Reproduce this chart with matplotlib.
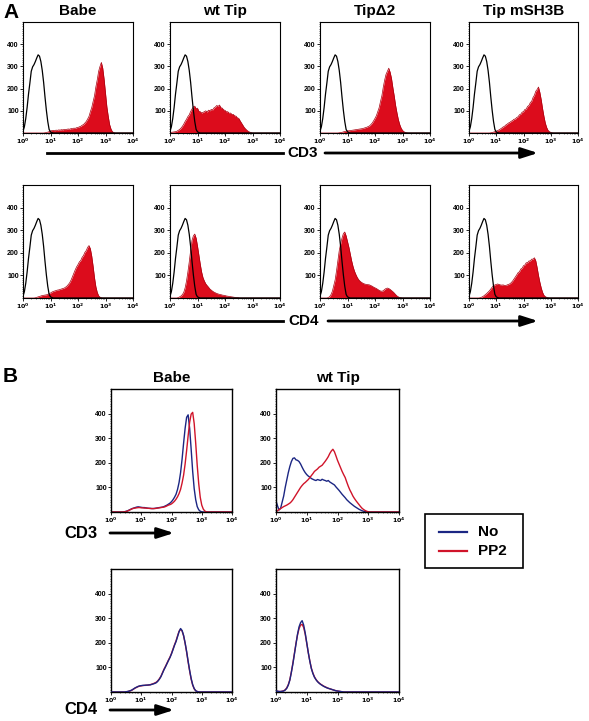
import numpy as np
import matplotlib
matplotlib.use('Agg')
import matplotlib.pyplot as plt
from matplotlib.ticker import MultipleLocator, LogLocator, NullFormatter
from matplotlib.patches import FancyArrowPatch, Rectangle
from matplotlib.lines import Line2D

plt.rcParams['font.family'] = ['Liberation Sans', 'DejaVu Sans']

# ---------------- data: log10 channel positions 0..4 step 0.05 (81 channels) ----------------
LOG_X = np.linspace(0, 4, 81)

CONTROL = [8, 28, 65, 115, 175, 225, 278, 298, 308, 322,
           338, 352, 346, 322, 282, 228, 162, 102, 52, 16,
           5, 2, 0, 0, 0, 0, 0, 0, 0, 0] + [0] * 51

A_TITLES = ['Babe', 'wt Tip', 'Tip\u03942', 'Tip mSH3B']

CD3_BABE = [0, 0, 0, 0, 0, 0, 0, 0, 0, 0,
            0, 0, 0, 0, 0, 0, 1, 2, 4, 6,
            9, 11, 12, 10, 13, 12, 14, 13, 15, 14,
            16, 15, 17, 18, 17, 20, 19, 22, 21, 24,
            25, 28, 30, 35, 38, 45, 52, 63, 75, 96,
            115, 142, 168, 208, 240, 278, 300, 318, 292, 242,
            180, 118, 75, 38, 18, 6, 2, 0, 0, 0] + [0] * 11
CD3_WT = [2, 3, 4, 5, 6, 8, 12, 16, 22, 30,
          40, 52, 62, 74, 82, 97, 108, 118, 121, 110,
          112, 98, 96, 90, 93, 96, 100, 94, 103, 100,
          106, 104, 113, 117, 124, 120, 126, 114, 112, 104,
          102, 95, 96, 89, 90, 84, 84, 77, 76, 68,
          66, 55, 45, 35, 25, 18, 12, 7, 4, 2] + [0] * 21
CD3_D2 = [0, 0, 0, 0, 0, 0, 0, 0, 0, 0,
          0, 0, 0, 0, 1, 2, 3, 5, 7, 8,
          10, 10, 11, 12, 13, 14, 15, 16, 17, 18,
          19, 20, 22, 24, 26, 29, 32, 38, 45, 55,
          66, 78, 96, 114, 142, 168, 206, 238, 264, 278,
          292, 274, 246, 204, 166, 124, 90, 60, 38, 22,
          12, 6, 3, 1, 0, 0, 0, 0, 0, 0] + [0] * 11
CD3_SH3B = [0, 0, 0, 0, 0, 0, 0, 0, 0, 0,
            0, 0, 0, 0, 0, 0, 1, 2, 4, 6,
            8, 11, 14, 18, 22, 27, 30, 36, 40, 45,
            48, 53, 56, 62, 63, 70, 73, 82, 85, 94,
            96, 106, 108, 120, 124, 137, 143, 160, 170, 188,
            196, 207, 183, 150, 110, 75, 45, 25, 12, 6,
            3, 1, 0, 0, 0, 0, 0, 0, 0, 0] + [0] * 11

CD4_BABE = [0, 0, 0, 0, 0, 0, 0, 0, 0, 1,
            3, 5, 7, 9, 11, 12, 13, 14, 16, 19,
            22, 26, 29, 31, 33, 35, 36, 38, 40, 42,
            44, 48, 53, 60, 68, 80, 95, 110, 125, 138,
            148, 160, 166, 180, 188, 202, 210, 224, 232, 218,
            185, 140, 90, 50, 25, 10, 4, 1, 0, 0] + [0] * 21
CD4_WT = [0, 0, 0, 0, 0, 0, 2, 5, 9, 15,
          25, 45, 75, 115, 160, 210, 255, 275, 283, 265,
          230, 190, 150, 115, 90, 75, 63, 55, 48, 40,
          35, 30, 26, 23, 20, 18, 16, 15, 13, 12,
          11, 9, 8, 7, 6, 5, 4, 3, 2, 2,
          1, 0, 0, 0, 0, 0, 0, 0, 0, 0] + [0] * 21
CD4_D2 = [0, 0, 0, 0, 0, 0, 2, 6, 15, 30,
          55, 80, 120, 165, 210, 240, 265, 285, 292, 275,
          250, 225, 195, 165, 140, 120, 105, 92, 82, 75,
          70, 66, 63, 61, 60, 59, 58, 55, 52, 48,
          45, 42, 38, 34, 31, 30, 32, 38, 42, 44,
          42, 38, 33, 28, 22, 15, 9, 5, 2, 1] + [0] * 21
CD4_SH3B = [0, 0, 0, 0, 0, 0, 0, 0, 1, 3,
            6, 10, 15, 20, 26, 32, 40, 48, 54, 58,
            60, 62, 60, 58, 57, 58, 56, 55, 58, 60,
            63, 68, 75, 84, 93, 102, 112, 116, 128, 132,
            143, 146, 156, 156, 164, 164, 172, 172, 178, 165,
            135, 100, 70, 45, 25, 12, 6, 3, 1, 0] + [0] * 21

B_TITLES = ['Babe', 'wt Tip']
LEGEND_LABELS = ['No', 'PP2']

B_CD3_BABE_NO = [0, 0, 0, 0, 0, 0, 0, 0, 0, 1,
                 3, 5, 8, 11, 14, 16, 18, 20, 21, 20,
                 19, 18, 18, 17, 16, 15, 15, 14, 14, 15,
                 16, 17, 18, 19, 20, 22, 25, 28, 32, 36,
                 42, 50, 60, 72, 92, 120, 160, 215, 280, 340,
                 385, 395, 340, 255, 165, 95, 50, 22, 9, 3,
                 1, 0, 0, 0, 0, 0, 0, 0, 0, 0] + [0] * 11
B_CD3_BABE_PP2 = [0, 0, 0, 0, 0, 0, 0, 0, 0, 1,
                  2, 4, 7, 10, 13, 15, 16, 17, 18, 18,
                  17, 17, 16, 16, 15, 15, 14, 14, 14, 14,
                  15, 16, 17, 18, 19, 20, 22, 25, 28, 30,
                  33, 38, 44, 52, 62, 75, 92, 118, 150, 195,
                  250, 310, 365, 398, 405, 360, 280, 190, 115, 60,
                  28, 12, 4, 1, 0, 0, 0, 0, 0, 0] + [0] * 11
B_CD3_WT_NO = [45, 25, 8, 15, 40, 65, 100, 130, 160, 185,
               205, 218, 220, 212, 210, 205, 195, 182, 170, 160,
               152, 146, 142, 136, 133, 130, 128, 132, 130, 128,
               133, 130, 128, 125, 128, 122, 118, 114, 110, 102,
               95, 88, 80, 72, 65, 58, 50, 44, 38, 33,
               28, 23, 19, 15, 11, 8, 5, 3, 2, 1] + [0] * 21
B_CD3_WT_PP2 = [2, 5, 10, 14, 18, 22, 25, 28, 32, 36,
                42, 50, 60, 70, 80, 90, 100, 108, 115, 120,
                126, 132, 140, 148, 156, 165, 170, 175, 182, 186,
                190, 198, 206, 215, 225, 238, 248, 255, 245, 228,
                210, 195, 180, 165, 152, 140, 122, 105, 90, 78,
                65, 55, 46, 38, 30, 22, 15, 10, 6, 3,
                1, 0, 0, 0, 0, 0, 0, 0, 0, 0] + [0] * 11
B_CD4_BABE_NO = [0, 0, 0, 0, 0, 0, 0, 0, 0, 0,
                 1, 2, 4, 6, 9, 13, 17, 20, 23, 25,
                 26, 27, 27, 28, 28, 29, 29, 31, 33, 35,
                 38, 44, 52, 62, 76, 90, 102, 115, 128, 140,
                 155, 172, 190, 205, 225, 245, 258, 250, 230, 200,
                 165, 125, 88, 55, 30, 14, 5, 2, 0, 0] + [0] * 21
B_CD4_BABE_PP2 = [0, 0, 0, 0, 0, 0, 0, 0, 0, 0,
                  1, 2, 3, 5, 8, 12, 16, 19, 22, 24,
                  25, 26, 27, 27, 28, 28, 30, 32, 34, 37,
                  40, 46, 54, 64, 78, 92, 104, 117, 130, 142,
                  157, 175, 192, 208, 228, 247, 255, 248, 228, 198,
                  162, 122, 85, 52, 28, 13, 5, 2, 0, 0] + [0] * 21
B_CD4_WT_NO = [5, 3, 2, 2, 3, 4, 8, 15, 28, 48,
               80, 115, 155, 195, 235, 265, 282, 290, 272, 240,
               200, 160, 125, 95, 75, 60, 50, 42, 36, 31,
               27, 23, 20, 17, 15, 13, 11, 9, 7, 5,
               4, 3, 2, 1, 0, 0, 0, 0, 0, 0] + [0] * 31
B_CD4_WT_PP2 = [4, 3, 2, 2, 3, 5, 9, 17, 30, 50,
                82, 118, 158, 198, 232, 258, 272, 275, 262, 235,
                198, 160, 126, 97, 77, 62, 51, 43, 37, 32,
                28, 24, 21, 18, 15, 13, 11, 9, 7, 5,
                4, 3, 2, 1, 0, 0, 0, 0, 0, 0] + [0] * 31

# ---------------- styling ----------------
RED_FILL = '#dc0c1c'
RED_EDGE = '#a8000f'
NAVY = '#1b2683'
RED_LINE = '#d0142a'

W, H = 589, 721
fig = plt.figure(figsize=(W / 100, H / 100), dpi=100)
X = 10 ** LOG_X


def add_ax(x0, x1, y0, y1):
    return fig.add_axes([x0 / W, 1 - y1 / H, (x1 - x0) / W, (y1 - y0) / H])


def style(ax, lw=0.8):
    ax.set_xscale('log')
    ax.set_xlim(1, 1e4)
    ax.set_ylim(0, 500)
    ax.set_yticks([100, 200, 300, 400])
    ax.set_yticklabels(['100', '200', '300', '400'], fontsize=5, fontweight='bold')
    ax.yaxis.set_minor_locator(MultipleLocator(10))
    ax.set_xticks([1, 10, 100, 1000, 10000])
    ax.set_xticklabels([r'$\mathbf{10^{%d}}$' % i for i in range(5)], fontsize=4.5)
    ax.xaxis.set_minor_locator(LogLocator(base=10, subs=np.arange(2, 10), numticks=20))
    ax.xaxis.set_minor_formatter(NullFormatter())
    ax.tick_params(which='major', length=2, width=0.6, pad=1)
    ax.tick_params(which='minor', length=1, width=0.4)
    for s in ax.spines.values():
        s.set_linewidth(lw)


def fx(x):
    return x / W


def fy(y):
    return 1 - y / H


def ftext(x, y, s, size, **kw):
    fig.text(fx(x), fy(y), s, fontsize=size, fontweight='bold', ha=kw.pop('ha', 'center'),
             va=kw.pop('va', 'center'), **kw)


def fline(x0, x1, y, arrow=False, color='black', lw=2):
    if arrow:
        p = FancyArrowPatch((fx(x0), fy(y)), (fx(x1), fy(y)), transform=fig.transFigure,
                            arrowstyle='-|>,head_length=0.5,head_width=0.16', mutation_scale=20,
                            lw=lw, color=color, shrinkA=0, shrinkB=0)
        fig.add_artist(p)
    else:
        fig.add_artist(Line2D([fx(x0), fx(x1)], [fy(y), fy(y)], transform=fig.transFigure,
                              lw=lw, color=color))


# ---------------- Panel A ----------------
cols_A = [(23, 133), (170, 280), (320, 430), (469, 578)]
rows_A = [(22, 133, [CD3_BABE, CD3_WT, CD3_D2, CD3_SH3B]),
          (185, 298, [CD4_BABE, CD4_WT, CD4_D2, CD4_SH3B])]
for (y0, y1, series) in rows_A:
    for (x0, x1), red in zip(cols_A, series):
        ax = add_ax(x0, x1, y0, y1)
        ax.fill_between(X, 0, red, color=RED_FILL, lw=0)
        ax.plot(X, red, color=RED_EDGE, lw=0.5)
        ax.plot(X, CONTROL, color='black', lw=0.9)
        style(ax)

for (x0, x1), t in zip(cols_A, A_TITLES):
    ftext((x0 + x1) / 2, 11, t, 11)
ftext(3, 12, 'A', 15, ha='left')

ftext(303, 153, 'CD3', 11)
fline(47, 283, 153)
fline(325, 538, 153, arrow=True)
ftext(304, 321, 'CD4', 11)
fline(47, 283, 321)
fline(328, 538, 321, arrow=True)

# ---------------- Panel B ----------------
ftext(3, 377, 'B', 15, ha='left')
cols_B = [(111, 232), (276, 399)]
rows_B = [(389, 512, [(B_CD3_BABE_NO, B_CD3_BABE_PP2), (B_CD3_WT_NO, B_CD3_WT_PP2)], False),
          (569, 692, [(B_CD4_BABE_NO, B_CD4_BABE_PP2), (B_CD4_WT_NO, B_CD4_WT_PP2)], True)]
for (y0, y1, pairs, no_on_top) in rows_B:
    for (x0, x1), (no, pp2) in zip(cols_B, pairs):
        ax = add_ax(x0, x1, y0, y1)
        ax.plot(X, no, color=NAVY, lw=1.0, zorder=3 if no_on_top else 2)
        ax.plot(X, pp2, color=RED_LINE, lw=1.0, zorder=2.5)
        style(ax, lw=1.0)

for (x0, x1), t in zip(cols_B, B_TITLES):
    ftext((x0 + x1) / 2, 378, t, 11)

ftext(81, 533, 'CD3', 12)
fline(110, 174, 533, arrow=True)
ftext(81, 710, 'CD4', 12)
fline(110, 174, 710, arrow=True)

# legend box (manual)
fig.add_artist(Rectangle((fx(425), fy(568)), fx(523) - fx(425), fy(514) - fy(568),
                         transform=fig.transFigure, fill=False, edgecolor='black', lw=1.2))
for yy, lab, col in zip([532, 551], LEGEND_LABELS, [NAVY, RED_LINE]):
    fline(439, 467, yy, color=col, lw=1.6)
    ftext(478, yy, lab, 11, ha='left')

fig.savefig('out.png', dpi=100)
